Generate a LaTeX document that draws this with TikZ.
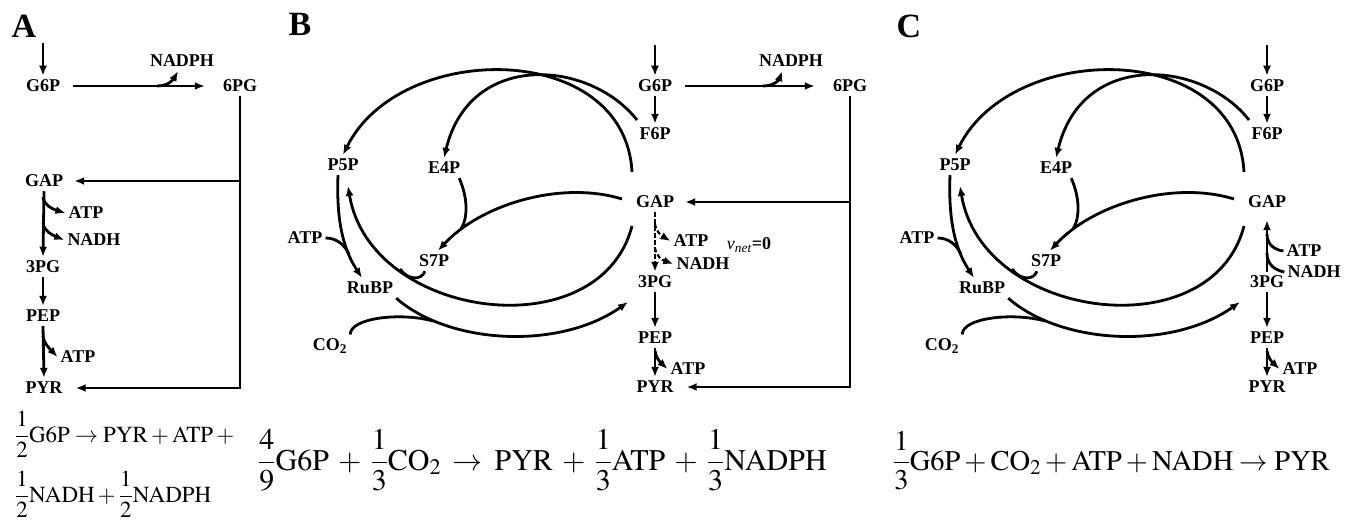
\documentclass[tikz,border=0pt]{standalone}
\usepackage{amsmath}
\usepackage{mathptmx}
\usepackage{fontspec}
\setmainfont{Liberation Serif}
\usetikzlibrary{arrows.meta}

\begin{document}
\begin{tikzpicture}[x=1pt, y=-1pt,
  lbl/.style={font=\fontsize{18}{20}\selectfont\bfseries, inner xsep=3pt, inner ysep=4pt},
  panel/.style={font=\fontsize{34}{38}\selectfont\bfseries, inner sep=0pt},
  eqn/.style={anchor=base west, inner sep=0pt},
  arr/.style={line width=2.8pt, -{Latex[length=10pt,width=8pt]}},
  ln/.style={line width=2.8pt},
  dsh/.style={arr, line width=2.2pt, dash pattern=on 4.5pt off 2.5pt},
]
\useasboundingbox (0,0) rectangle (1350,521);

% panel A: glycolysis + oxidative PPP
\node[panel] (labA) at (24,26) {A};
\node[lbl] (g6pA) at (43,86) {G6P};
\node[lbl] (pgA) at (240,86) {6PG};
\node[lbl] (nadphA) at (182,61) {NADPH};
\node[lbl] (gapA) at (44,181) {GAP};
\node[lbl] (atpA) at (86,213) {ATP};
\node[lbl] (nadhA) at (94,240) {NADH};
\node[lbl] (tpgA) at (43,267) {3PG};
\node[lbl] (pepA) at (43,316) {PEP};
\node[lbl] (atpA2) at (78,357) {ATP};
\node[lbl] (pyrA) at (44,388) {PYR};
\coordinate (inA) at (43,43);
\coordinate (brA) at (157,86);
\coordinate (bA1) at (43,197);
\coordinate (bA2) at (43,223);
\coordinate (pbA) at (43,336);
\draw[arr] (inA) -- (g6pA.north);
\draw[arr, shorten <=10pt, shorten >=15pt] (g6pA.east) -- (pgA.west);
\draw[arr] (brA) .. controls (168,86) and (173,80) .. ([xshift=-4pt]nadphA.south);
\draw[arr, shorten >=10pt] (pgA.south) |- (pyrA.east);
\draw[arr, shorten >=8pt] (pgA.south |- gapA.east) -- (gapA.east);
\draw[arr] (gapA.south) -- (tpgA.north);
\draw[arr] (bA1) .. controls (44,205) and (52,209) .. (atpA.west);
\draw[arr] (bA2) .. controls (44,231) and (52,235) .. (nadhA.west);
\draw[arr] (tpgA.south) -- (pepA.north);
\draw[arr] (pepA.south) -- (pyrA.north);
\draw[arr] (pbA) .. controls (44,344) and (50,349) .. (atpA2.west);

% panels B and C: the shared cycle
\foreach \p/\dx in {B/0, C/612}{
\begin{scope}[xshift=\dx pt]
  \node[lbl] (g6p\p) at (655,86) {G6P};
  \node[lbl] (f6p\p) at (655,134) {F6P};
  \node[lbl] (gap\p) at (655,202) {GAP};
  \node[lbl] (tpg\p) at (655,282) {3PG};
  \node[lbl] (pep\p) at (655,338) {PEP};
  \node[lbl] (pyr\p) at (655,387) {PYR};
  \node[lbl] (atpp\p) at (688,369) {ATP};
  \node[lbl] (p5p\p) at (343,165) {P5P};
  \node[lbl] (e4p\p) at (444,168) {E4P};
  \node[lbl] (atpc\p) at (305,238) {ATP};
  \node[lbl] (s7p\p) at (434,261) {S7P};
  \node[lbl] (rubp\p) at (370,288) {RuBP};
  \node[lbl] (co\p) at (330,346) {CO\textsubscript{2}};
  \coordinate (in\p) at (655,45);
  \coordinate (pb\p) at (655,351);
  \coordinate (gtop\p) at (632,172);
  \coordinate (gleft\p) at (622,199);
  \coordinate (gbot\p) at (632,226);
  \coordinate (f6pl\p) at (637,120);
  \coordinate (e4pj\p) at (461,229);
  \coordinate (s7pj\p) at (400,269);
  \coordinate (atpj\p) at (349,254);
  \coordinate (coj\p) at (433,321);
  \coordinate (p5pin\p) at (348,186);
  \coordinate (tpgin\p) at (628,302);
  \draw[arr] (in\p) -- (g6p\p.north);
  \draw[arr] (g6p\p.south) -- (f6p\p.north);
  \draw[arr] (tpg\p.south) -- (pep\p.north);
  \draw[arr] (pep\p.south) -- (pyr\p.north);
  \draw[arr] (pb\p) .. controls (656,358) and (660,362) .. (atpp\p.west);
  \draw[arr] (gtop\p) .. controls (625,40) and (400,40) .. (p5p\p.north);
  \draw[arr] (f6pl\p) .. controls (590,60) and (470,50) .. (e4p\p.north);
  \draw[arr] (gleft\p) .. controls (560,180) and (480,205) .. ([xshift=4pt]s7p\p.north);
  \draw[ln] ([xshift=-4pt]e4p\p.south east) .. controls (468,198) and (468,218) .. (e4pj\p);
  \draw[arr] (gbot\p) .. controls (600,350) and (370,320) .. (p5pin\p);
  \draw[ln] ([xshift=-9pt]s7p\p.south) .. controls (421,281) and (408,280) .. (s7pj\p);
  \draw[arr] ([xshift=-5pt]p5p\p.south) .. controls (336,225) and (345,252) .. ([xshift=-8pt]rubp\p.north);
  \draw[ln] (atpc\p.east) .. controls (336,238) and (344,244) .. (atpj\p);
  \draw[arr] (rubp\p.south east) .. controls (450,345) and (560,350) .. (tpgin\p);
  \draw[ln] (co\p.north east) .. controls (350,318) and (400,312) .. (coj\p);
\end{scope}
}

% panel B extras
\node[panel] (labB) at (300,24) {B};
\node[lbl] (pgB) at (850,86) {6PG};
\node[lbl] (nadphB) at (791,61) {NADPH};
\node[lbl] (atpB) at (691,241) {ATP};
\node[lbl] (nadhB) at (703,264) {NADH};
\node[lbl] (vnet) at (749,245) {{\mdseries\itshape v}\textsubscript{\mdseries\itshape net}=0};
\coordinate (brB) at (763,86);
\coordinate (dB1) at (655,224);
\coordinate (dB2) at (655,248);
\draw[arr, shorten <=10pt, shorten >=15pt] (g6pB.east) -- (pgB.west);
\draw[arr] (brB) .. controls (774,86) and (779,80) .. ([xshift=-9pt]nadphB.south);
\draw[arr, shorten >=10pt] (pgB.south) |- (pyrB.east);
\draw[arr, shorten >=8pt] (pgB.south |- gapB.east) -- (gapB.east);
\draw[dsh] (gapB.south) -- (tpgB.north);
\draw[dsh] (dB1) .. controls (656,232) and (662,236) .. (atpB.west);
\draw[dsh] (dB2) .. controls (656,256) and (662,260) .. (nadhB.west);

% panel C extras
\node[panel] (labC) at (909,26) {C};
\begin{scope}[xshift=612pt]
  \node[lbl] (atpC) at (692,251) {ATP};
  \node[lbl] (nadhC) at (702,272) {NADH};
  \coordinate (jC1) at (655,234);
  \coordinate (jC2) at (655,253);
  \draw[arr, shorten >=8pt] (tpgC.north) -- (gapC.south);
  \draw[ln] (atpC.west) .. controls (663,250) and (655,245) .. (jC1);
  \draw[ln] (nadhC.west) .. controls (663,270) and (655,265) .. (jC2);
\end{scope}

% net reactions
\node[eqn, font=\fontsize{23}{27}\selectfont] (eqA1) at (15,442)
  {$\dfrac{1}{2}\mathrm{G6P}\rightarrow\mathrm{PYR}+\mathrm{ATP}+{}$};
\node[eqn, font=\fontsize{23}{27}\selectfont] (eqA2) at (15,502)
  {$\dfrac{1}{2}\mathrm{NADH}+\dfrac{1}{2}\mathrm{NADPH}$};
\node[eqn, font=\fontsize{30}{34}\selectfont] (eqB) at (258,470)
  {$\dfrac{4}{9}\mathrm{G6P}\mkern3mu+\mkern3mu\dfrac{1}{3}\mathrm{CO}_2\mkern3mu\rightarrow\mkern3mu\mathrm{PYR}\mkern3mu+\mkern3mu\dfrac{1}{3}\mathrm{ATP}\mkern3mu+\mkern3mu\dfrac{1}{3}\mathrm{NADPH}$};
\node[eqn, font=\fontsize{28.5}{34}\selectfont] (eqC) at (893,470)
  {$\dfrac{1}{3}\mathrm{G6P}+\mathrm{CO}_2+\mathrm{ATP}+\mathrm{NADH}\rightarrow\mathrm{PYR}$};
\end{tikzpicture}
\end{document}
